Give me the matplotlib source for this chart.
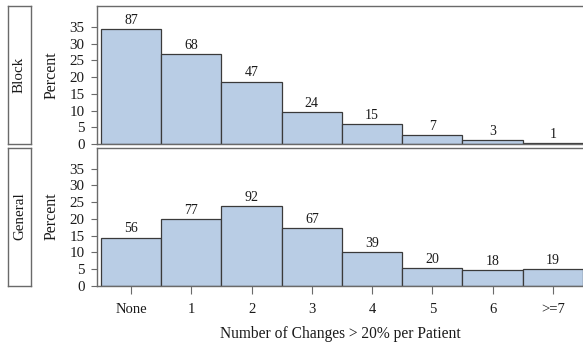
import matplotlib
matplotlib.use("Agg")
import matplotlib.pyplot as plt

plt.rcParams['font.family'] = ['Liberation Serif', 'DejaVu Serif']

categories = ["None", "1", "2", "3", "4", "5", "6", ">=7"]
panels = ["Block", "General"]
block_pct = [34.5, 27.0, 18.7, 9.5, 6.0, 2.8, 1.2, 0.4]
block_counts = [87, 68, 47, 24, 15, 7, 3, 1]
general_pct = [14.4, 19.8, 23.7, 17.3, 10.1, 5.2, 4.6, 4.9]
general_counts = [56, 77, 92, 67, 39, 20, 18, 19]
yticks = [0, 5, 10, 15, 20, 25, 30, 35]

W, H = 583, 344
fig = plt.figure(figsize=(W / 100, H / 100), dpi=100)

fill = '#B9CDE5'
edge = '#3a3a3a'
frame = '#6a6a6a'
txt = '#1a1a1a'

left = 97 / W
axw = 1.0 - left
panel_px = [(6, 144), (147.5, 285.7)]
data = [(block_pct, block_counts), (general_pct, general_counts)]

x = list(range(len(categories)))
for i, ((top, bot), (pct, cnt), name) in enumerate(zip(panel_px, data, panels)):
    ax = fig.add_axes([left, 1 - bot / H, axw, (bot - top) / H])
    ax.bar(x, pct, width=1.0, color=fill, edgecolor=edge, linewidth=0.9)
    for xi, p, c in zip(x, pct, cnt):
        ax.annotate(str(c), (xi, p), xytext=(0, 1.5), textcoords='offset points',
                    ha='center', va='bottom', fontsize=10, color=txt)
    ax.set_xlim(-0.566, 7.5)
    ax.set_ylim(0, 41.3)
    ax.set_yticks(yticks)
    ax.tick_params(axis='y', length=4.5, width=0.8, pad=4.5, labelsize=10.8,
                   colors=frame, labelcolor=txt)
    for s in ['left', 'top', 'bottom']:
        ax.spines[s].set_color(frame)
        ax.spines[s].set_linewidth(1.0)
    ax.spines['right'].set_visible(False)
    ax.set_ylabel("Percent", fontsize=11.5, color=txt)
    ax.yaxis.set_label_coords((60 - 97) / (W - 97), 0.5)
    ax.set_xticks(x)
    if i == 0:
        ax.tick_params(axis='x', length=0, labelbottom=False)
    else:
        ax.set_xticklabels(categories)
        ax.tick_params(axis='x', length=5.5, width=0.8, pad=7, labelsize=10.5,
                       colors=frame, labelcolor=txt)
    # strip box
    sax = fig.add_axes([8 / W, 1 - bot / H, 23 / W, (bot - top) / H])
    sax.set_xticks([])
    sax.set_yticks([])
    for s in sax.spines.values():
        s.set_color(frame)
        s.set_linewidth(1.0)
    sax.text(0.5, 0.5, name, rotation=90, ha='center', va='center',
             fontsize=10.8, color=txt, transform=sax.transAxes)

fig.text((97 + W) / 2 / W, 1 - 334 / H, "Number of Changes > 20% per Patient",
         ha='center', va='center', fontsize=11.2, color=txt)

fig.savefig("out.png", dpi=100)
